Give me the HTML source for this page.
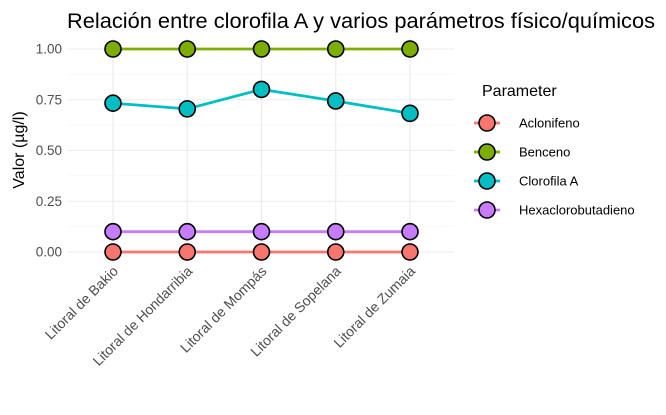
<!DOCTYPE html>
<html><head><meta charset="utf-8"><style>
body{margin:0;background:#fff;font-family:"Liberation Sans",Arial,sans-serif}
svg text{font-family:"Liberation Sans",Arial,sans-serif}
</style></head><body>
<svg id="c" width="666" height="410" xmlns="http://www.w3.org/2000/svg">
<text x="67" y="28" font-size="21.5" fill="#000" textLength="588" lengthAdjust="spacingAndGlyphs">Relación entre clorofila A y varios parámetros físico/químicos</text>
<text transform="translate(24,150) rotate(-90)" font-size="16" text-anchor="middle" fill="#000">Valor (µg/l)</text>
<g id="grid"></g><g id="series"></g><g id="axes"></g>
<g id="legend"></g>
</svg>
<script>
const categories=["Litoral de Bakio","Litoral de Hondarribia","Litoral de Mompás","Litoral de Sopelana","Litoral de Zumaia"];
const seriesNames=["Aclonifeno","Benceno","Clorofila A","Hexaclorobutadieno"];
const aclonifeno=[0,0,0,0,0];
const benceno=[1,1,1,1,1];
const clorofila=[0.733,0.705,0.801,0.744,0.683];
const hexa=[0.1,0.1,0.1,0.1,0.1];
const yTicks=[0,0.25,0.5,0.75,1];
const yTickLabels=["0.00","0.25","0.50","0.75","1.00"];
const colors=["#F8766D","#7CAE00","#00BFC4","#C77CFF"];
const NS="http://www.w3.org/2000/svg";
const x0=68,x1=454;
const xs=i=>113+i*74.25;
const ys=v=>252-v*203;
function mk(t,a,p){const e=document.createElementNS(NS,t);for(const k in a)e.setAttribute(k,a[k]);p.appendChild(e);return e;}
const grid=document.getElementById('grid'),axes=document.getElementById('axes'),ser=document.getElementById('series'),leg=document.getElementById('legend');
for(let v=0.125;v<1.1;v+=0.25){const l=mk('line',{x1:x0,x2:x1,y1:ys(v),y2:ys(v),stroke:'#f0f0f0','stroke-width':0.6},grid);}
yTicks.forEach((v,i)=>{const l=mk('line',{x1:x0,x2:x1,y1:ys(v),y2:ys(v),stroke:'#ebebeb','stroke-width':1.1},grid);
const t=mk('text',{x:62,y:ys(v)+4.5,'font-size':13.5,fill:'#4d4d4d','text-anchor':'end'},axes);t.textContent=yTickLabels[i];});
categories.forEach((c,i)=>{const l=mk('line',{x1:xs(i),x2:xs(i),y1:38,y2:263,stroke:'#ebebeb','stroke-width':1.1},grid);
const t=mk('text',{transform:`translate(${xs(i)+6},${272}) rotate(-45)`,'font-size':14,fill:'#4d4d4d','text-anchor':'end'},axes);t.textContent=c;});
const data=[aclonifeno,benceno,clorofila,hexa];
data.forEach((d,s)=>{const g=mk('g',{},ser);
const pl=mk('polyline',{points:d.map((v,i)=>xs(i)+','+ys(v)).join(' '),fill:'none',stroke:colors[s],'stroke-width':2.8},g);
d.forEach((v,i)=>{const c=mk('circle',{cx:xs(i),cy:ys(v),r:8,fill:colors[s],stroke:'#000','stroke-width':1.6},g);});});
const lt=mk('text',{x:482,y:96,'font-size':16,fill:'#000'},leg);lt.textContent='Parameter';
seriesNames.forEach((n,i)=>{const y=123+i*29;const g=mk('g',{},leg);
mk('line',{x1:474,x2:500,y1:y,y2:y,stroke:colors[i],'stroke-width':2.8},g);
mk('circle',{cx:487,cy:y,r:8,fill:colors[i],stroke:'#000','stroke-width':1.6},g);
const t=mk('text',{x:519,y:y+4.5,'font-size':13,fill:'#000'},g);t.textContent=n;});
</script>
</body></html>
